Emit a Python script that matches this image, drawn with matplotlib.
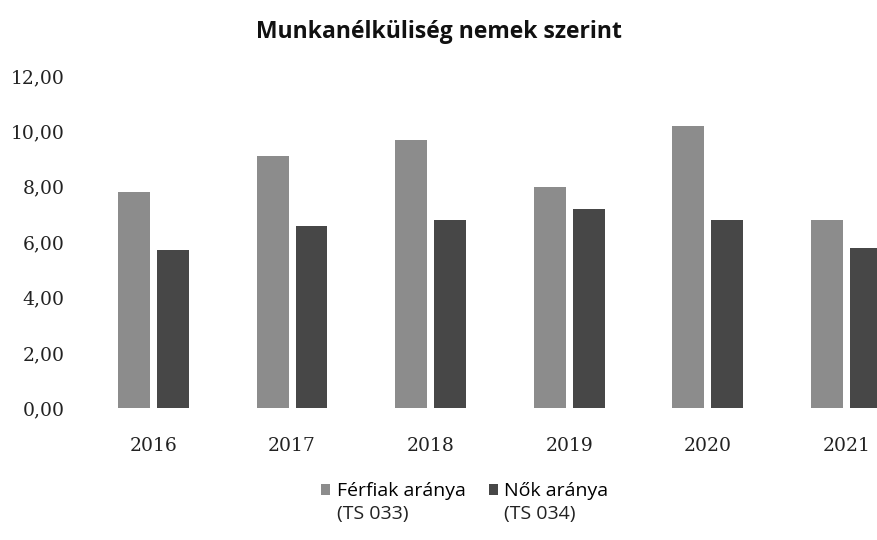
import numpy as np
import matplotlib
matplotlib.use('Agg')
import matplotlib.pyplot as plt
from matplotlib.ticker import FuncFormatter

years = ['2016', '2017', '2018', '2019', '2020', '2021']
ferfiak = [7.8, 9.1, 9.7, 8.0, 10.2, 6.8]
nok = [5.7, 6.6, 6.8, 7.2, 6.8, 5.8]
labels = ['Férfiak aránya', 'Nők aránya']
codes = ['(TS 033)', '(TS 034)']

fig = plt.figure(figsize=(8.77, 5.40), dpi=100)
# a jobb szél le van vágva, ezért a tengely kilóg az ábrából
ax = fig.add_axes([0.096, 0.244, 0.948, 0.615])

x = np.arange(len(years))
w = 0.23
gap = 0.025
ax.bar(x - w / 2 - gap, ferfiak, width=w, color='#8c8c8c', label=labels[0])
ax.bar(x + w / 2 + gap, nok, width=w, color='#474747', label=labels[1])

ax.set_xlim(-0.5, len(years) - 0.5)
ax.set_ylim(0, 12)
ax.set_yticks(np.arange(0, 13, 2))
ax.yaxis.set_major_formatter(FuncFormatter(lambda v, p: f'{v:.2f}'.replace('.', ',')))
ax.set_xticks(x)
ax.set_xticklabels(years)
for s in ax.spines.values():
    s.set_visible(False)
ax.tick_params(length=0)
ax.tick_params(axis='y', pad=14)
ax.tick_params(axis='x', pad=21)
for lab in ax.get_xticklabels() + ax.get_yticklabels():
    lab.set_fontfamily('DejaVu Serif')
    lab.set_fontsize(13.5)
    lab.set_color('#222222')

fig.text(0.5, 0.940, 'Munkanélküliség nemek szerint', ha='center', va='center',
         fontsize=16.5, fontweight='bold', family='Open Sans', color='#111111')

leg = fig.legend(loc='center', bbox_to_anchor=(0.53, 0.09), ncol=2, frameon=False,
                 prop={'family': 'Open Sans', 'size': 14}, handlelength=0.45, handleheight=0.45,
                 handletextpad=0.35, columnspacing=1.2)

# második sor a jelmagyarázat alá
fig.canvas.draw()
inv = fig.transFigure.inverted()
for t, code in zip(leg.get_texts(), codes):
    bb = t.get_window_extent()
    x0, y0 = inv.transform((bb.x0, bb.y0))
    fig.text(x0, y0 - 0.008, code, ha='left', va='top', family='Open Sans',
             fontsize=14, color='#222222')

fig.savefig('out.png', dpi=100)
